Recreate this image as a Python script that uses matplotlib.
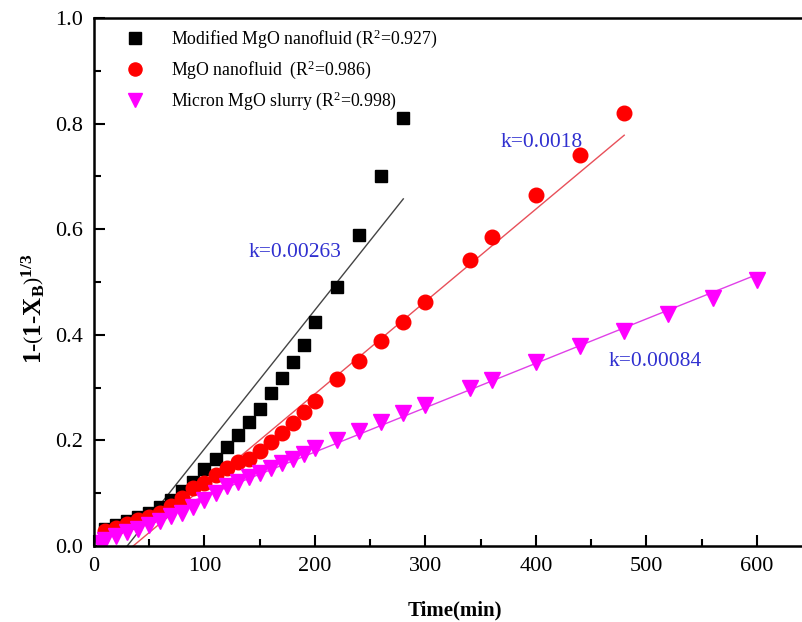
import matplotlib
matplotlib.use('Agg')
import matplotlib.pyplot as plt
import numpy as np
from matplotlib.ticker import MultipleLocator

plt.rcParams['font.family'] = ['Liberation Serif', 'DejaVu Serif']
plt.rcParams['mathtext.fontset'] = 'custom'
plt.rcParams['mathtext.rm'] = 'Liberation Serif'
plt.rcParams['mathtext.it'] = 'Liberation Serif:italic'
plt.rcParams['mathtext.bf'] = 'Liberation Serif:bold'

# modified MgO nanofluid
t_mod = [10, 20, 30, 40, 50, 60, 70, 80, 90, 100, 110, 120, 130, 140, 150,
         160, 170, 180, 190, 200, 220, 240, 260, 280]
x_mod = [0.033, 0.040, 0.047, 0.055, 0.062, 0.073, 0.087, 0.104, 0.122, 0.145,
         0.164, 0.188, 0.211, 0.234, 0.259, 0.289, 0.318, 0.349, 0.381, 0.424,
         0.490, 0.589, 0.701, 0.810]

# MgO nanofluid
t_nano = [10, 20, 30, 40, 50, 60, 70, 80, 90, 100, 110, 120, 130, 140, 150,
          160, 170, 180, 190, 200, 220, 240, 260, 280, 300, 340, 360, 400, 440, 480]
x_nano = [0.028, 0.034, 0.042, 0.049, 0.055, 0.063, 0.075, 0.090, 0.109, 0.119,
          0.134, 0.147, 0.160, 0.164, 0.180, 0.197, 0.214, 0.233, 0.253, 0.275,
          0.316, 0.351, 0.388, 0.425, 0.463, 0.542, 0.585, 0.664, 0.740, 0.821]

# micron MgO slurry
t_slurry = [5, 10, 20, 30, 40, 50, 60, 70, 80, 90, 100, 110, 120, 130, 140, 150,
            160, 170, 180, 190, 200, 220, 240, 260, 280, 300, 340, 360, 400,
            440, 480, 520, 560, 600]
x_slurry = [0.005, 0.012, 0.019, 0.026, 0.033, 0.040, 0.047, 0.056, 0.063, 0.074,
            0.087, 0.100, 0.113, 0.122, 0.131, 0.139, 0.148, 0.157, 0.165, 0.175,
            0.186, 0.200, 0.217, 0.234, 0.252, 0.267, 0.300, 0.314, 0.348,
            0.378, 0.408, 0.440, 0.469, 0.504]

# linear fits: slope, intercept, time range
k_mod, b_mod, fit_mod = 0.00263, -0.079, (0, 280)
k_nano, b_nano, fit_nano = 0.00175, -0.062, (0, 480)
k_slurry, b_slurry, fit_slurry = 0.00084, 0.010, (0, 600)

fig = plt.figure(figsize=(8.03, 6.22), dpi=100)
ax = fig.add_axes([94 / 803, 76 / 622, 718 / 803, 528 / 622])

ax.plot(t_mod, x_mod, 's', color='black', ms=9, ls='none',
        label=r'Modified MgO nanofluid (R$^2$=0.927)')
ax.plot(t_nano, x_nano, 'o', color='#ff0000', ms=10.5, ls='none',
        label=r'MgO nanofluid  (R$^2$=0.986)')
ax.plot(t_slurry, x_slurry, 'v', color='#ff00ff', ms=11, ls='none',
        label=r'Micron MgO slurry (R$^2$=0.998)')

for k, b, (t0, t1), c in [(k_mod, b_mod, fit_mod, '#444444'),
                          (k_nano, b_nano, fit_nano, '#e8505a'),
                          (k_slurry, b_slurry, fit_slurry, '#e040e8')]:
    tt = np.array([t0, t1])
    ax.plot(tt, k * tt + b, color=c, lw=1.0, zorder=1)

blue = '#3030d0'
ax.text(182, 0.555, 'k=0.00263', color=blue, fontsize=15.5, ha='center', va='center')
ax.text(405, 0.765, 'k=0.0018', color=blue, fontsize=15.5, ha='center', va='center')
ax.text(508, 0.35, 'k=0.00084', color=blue, fontsize=15.5, ha='center', va='center')

ax.set_xlim(0, 650)
ax.set_ylim(0, 1.0)
ax.set_xticks([0, 100, 200, 300, 400, 500, 600])
ax.xaxis.set_minor_locator(MultipleLocator(50))
ax.yaxis.set_major_locator(MultipleLocator(0.2))
ax.yaxis.set_minor_locator(MultipleLocator(0.1))
ax.tick_params(which='both', direction='in', labelsize=16, width=1.5)
ax.tick_params(which='major', length=8, pad=8)
ax.tick_params(which='minor', length=5)
for s in ax.spines.values():
    s.set_linewidth(1.8)

ax.set_xlabel('Time(min)', fontsize=15, fontweight='bold')
ax.xaxis.set_label_coords(0.503, -0.104)
ax.set_ylabel(r'$\mathbf{1\text{-}\left(1\text{-}X_B\right)^{1/3}}$', fontsize=18)
ax.yaxis.set_label_coords(-0.066, 0.45)

ax.legend(loc='upper left', bbox_to_anchor=(0.02, 1.012), frameon=False,
          fontsize=12.8, handlelength=1.2, handletextpad=1.4, labelspacing=0.48,
          markerscale=0.9)

fig.savefig('out.png', dpi=100)
